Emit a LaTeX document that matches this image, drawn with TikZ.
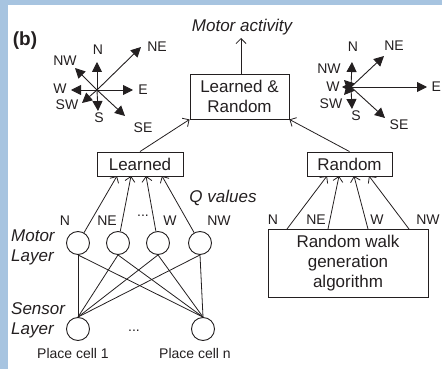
\documentclass[tikz,border=0pt]{standalone}
\usepackage{fontspec}
\setmainfont{Liberation Sans}
\usetikzlibrary{arrows.meta}
\definecolor{framecol}{HTML}{A7C4E0}
\definecolor{ink}{HTML}{231F20}
\begin{document}
\begin{tikzpicture}[x=1pt,y=-1pt, color=ink,
  big/.style={font=\fontsize{17}{20}\selectfont, inner sep=0pt},
  small/.style={font=\fontsize{14}{16}\selectfont, inner sep=0pt},
  boxnode/.style={draw, line width=0.9pt, inner sep=0pt, align=center, font=\fontsize{17}{20}\selectfont},
  unit/.style={draw, circle, line width=0.9pt, minimum size=23pt, inner sep=0pt},
  con/.style={line width=0.8pt, -{Straight Barb[length=5pt,width=10pt,line width=0.8pt]}},
  cmp/.style={line width=0.9pt, -{Triangle[length=10pt,width=10pt]}},
  wire/.style={line width=0.8pt}]
\useasboundingbox (0,0) rectangle (442,369);
\fill[framecol] (0,0) rectangle (442,5);
\fill[framecol] (0,0) rectangle (8,369);

% title
\node[inner sep=0pt, font=\fontsize{19}{22}\selectfont\bfseries] (title) at (25,41) {(b)};
\node[big, font=\fontsize{17}{20}\selectfont\itshape] (motact) at (242,27) {Motor activity};

% left compass
\coordinate (c1) at (97,90);
\coordinate (c1N) at (97,62);
\coordinate (c1NE) at (141,47);
\coordinate (c1E) at (133,90);
\coordinate (c1W) at (71,90);
\coordinate (c1NW) at (75,68);
\coordinate (c1SW) at (82,103);
\coordinate (c1S) at (98,111);
\coordinate (c1SE) at (125,116);
\foreach \d in {N,NE,E,W,NW,SW,S,SE} {\draw[cmp] (c1) -- (c1\d);}
\node[small] (l1N) at (98,50) {N};
\node[small] (l1NE) at (157,47) {NE};
\node[small] (l1E) at (143,90) {E};
\node[small] (l1W) at (60,89) {W};
\node[small] (l1NW) at (65,61) {NW};
\node[small] (l1SW) at (67,105) {SW};
\node[small] (l1S) at (99,118) {S};
\node[small] (l1SE) at (143,128) {SE};

% right compass
\coordinate (c2) at (351,87);
\coordinate (c2N) at (352,62);
\coordinate (c2NE) at (384,56);
\coordinate (c2E) at (427,87);
\coordinate (c2W) at (342,87);
\coordinate (c2NW) at (344,80);
\coordinate (c2SW) at (344,95);
\coordinate (c2S) at (352,109);
\coordinate (c2SE) at (385,118);
\foreach \d in {N,NE,E,W,NW,SW,S,SE} {\draw[cmp] (c2) -- (c2\d);}
\node[small] (l2N) at (353,47) {N};
\node[small] (l2NE) at (394,46) {NE};
\node[small, anchor=west] (l2E) at (431.5,87) {E};
\node[small] (l2W) at (333,87) {W};
\node[small] (l2NW) at (329,69) {NW};
\node[small] (l2SW) at (331,104) {SW};
\node[small] (l2S) at (356,116) {S};
\node[small] (l2SE) at (399,125) {SE};

% boxes
\node[boxnode, minimum width=99pt, minimum height=45pt] (LR) at (239.5,96.5) {Learned \&\\Random};
\node[boxnode, minimum width=86pt, minimum height=24pt] (L) at (140,164) {Learned};
\node[boxnode, minimum width=85pt, minimum height=24pt] (R) at (349.5,164) {Random};
\node[boxnode, minimum width=160pt, minimum height=68pt] (RW) at (348,263) {Random walk\\generation\\algorithm};

\coordinate (top) at (241,38);
\draw[con] (LR.north -| top) -- (top);
\draw[con] (L.north) -- (LR.south west);
\draw[con] (R.north) -- (LR.south east);

% motor layer
\node[unit] (m1) at (78,243) {};
\node[unit] (m2) at (118,243) {};
\node[unit] (m3) at (158,243) {};
\node[unit] (m4) at (200,243) {};
\node[unit] (s1) at (78,329) {};
\node[unit] (s2) at (203,329) {};

\coordinate (t1) at (117,176);
\coordinate (t2) at (131,176);
\coordinate (t3) at (146,176);
\coordinate (t4) at (162,176);
\draw[con] (m1) -- (t1);
\draw[con] (m2) -- (t2);
\draw[con] (m3) -- (t3);
\draw[con] (m4) -- (t4);

\foreach \m in {m1,m2,m3,m4} {
  \draw[wire] (\m.south) -- (s1.north);
  \draw[wire] (\m.south) -- (s2.north);
}

\node[small] (mN) at (65,221) {N};
\node[small] (mNE) at (107,221) {NE};
\node[small] (mdots) at (143,216) {...};
\node[small] (mW) at (170,221) {W};
\node[small] (mNW) at (219,221) {NW};
\node[big, font=\fontsize{17}{20}\selectfont\itshape] (qv) at (223,198) {Q values};

\node[big, font=\fontsize{17}{20}\selectfont\itshape, align=left, anchor=west] (ml) at (11,247) {Motor\\Layer};
\node[big, font=\fontsize{17}{20}\selectfont\itshape, align=left, anchor=west] (sl) at (11,320) {Sensor\\Layer};
\node[small] (sdots) at (134,331) {...};
\node[small] (pc1) at (73,353) {Place cell 1};
\node[small] (pcn) at (195,353) {Place cell n};

% random walk arrows
\coordinate (b1) at (287,229);
\coordinate (b2) at (328,229);
\coordinate (b3) at (368,229);
\coordinate (b4) at (409,229);
\coordinate (r1) at (327,176);
\coordinate (r2) at (339,176);
\coordinate (r3) at (354,176);
\coordinate (r4) at (369,176);
\draw[con] (b1) -- (r1);
\draw[con] (b2) -- (r2);
\draw[con] (b3) -- (r3);
\draw[con] (b4) -- (r4);
\node[small] (rN) at (273,220) {N};
\node[small] (rNE) at (316,220) {NE};
\node[small] (rW) at (377,220) {W};
\node[small] (rNW) at (428,220) {NW};
\end{tikzpicture}
\end{document}
